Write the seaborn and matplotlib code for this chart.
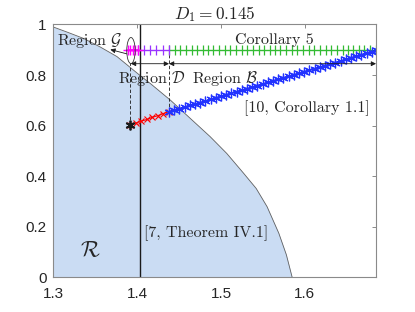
import matplotlib
matplotlib.use('Agg')
import matplotlib.pyplot as plt
import seaborn as sns
from matplotlib.patches import Ellipse

# ---- data ----
boundary_x = [1.300, 1.318, 1.336, 1.356, 1.376, 1.404, 1.416, 1.440, 1.463, 1.487, 1.507, 1.527, 1.542, 1.555, 1.569, 1.578, 1.585]
boundary_y = [0.990, 0.968, 0.945, 0.911, 0.873, 0.797, 0.766, 0.700, 0.630, 0.557, 0.490, 0.412, 0.352, 0.280, 0.175, 0.090, 0.000]

vline_x = 1.4036

g_x = [1.389, 1.392, 1.395, 1.398, 1.4006]
g_y = [0.900, 0.900, 0.900, 0.900, 0.900]

d_x = [1.4006, 1.408, 1.415, 1.423, 1.431, 1.438]
d_y = [0.900, 0.900, 0.900, 0.900, 0.900, 0.900]

c5_x = [1.438, 1.445, 1.451, 1.458, 1.465, 1.471, 1.478, 1.485, 1.491, 1.498,
        1.505, 1.511, 1.518, 1.525, 1.531, 1.538, 1.545, 1.551, 1.558, 1.565,
        1.571, 1.578, 1.585, 1.591, 1.598, 1.605, 1.611, 1.618, 1.625, 1.631,
        1.638, 1.645, 1.651, 1.658, 1.665, 1.671, 1.678, 1.685]
c5_y = [0.900] * len(c5_x)

red_x = [1.392, 1.399, 1.405, 1.412, 1.418, 1.425, 1.431, 1.438]
red_y = [0.603, 0.611, 0.618, 0.625, 0.633, 0.640, 0.648, 0.655]

blue_x = [1.438, 1.444, 1.450, 1.457, 1.463, 1.469, 1.475, 1.481, 1.488, 1.494,
          1.500, 1.506, 1.512, 1.519, 1.525, 1.531, 1.537, 1.543, 1.550, 1.556,
          1.562, 1.568, 1.574, 1.581, 1.587, 1.593, 1.599, 1.605, 1.612, 1.618,
          1.624, 1.630, 1.636, 1.643, 1.649, 1.655, 1.661, 1.667, 1.674, 1.680, 1.686]
blue_y = [0.655, 0.661, 0.667, 0.674, 0.680, 0.685, 0.691, 0.697, 0.704, 0.710,
          0.716, 0.722, 0.728, 0.735, 0.740, 0.746, 0.752, 0.758, 0.765, 0.771,
          0.777, 0.783, 0.789, 0.795, 0.801, 0.807, 0.813, 0.819, 0.826, 0.831,
          0.837, 0.843, 0.849, 0.856, 0.862, 0.868, 0.874, 0.880, 0.887, 0.892, 0.898]

star_x = [1.392]
star_y = [0.603]

x_ticks = [1.3, 1.4, 1.5, 1.6]
x_tick_labels = ['1.3', '1.4', '1.5', '1.6']
y_ticks = [0, 0.2, 0.4, 0.6, 0.8, 1.0]
y_tick_labels = ['0', '0.2', '0.4', '0.6', '0.8', '1']

# ---- style ----
sns.set_theme(style='white')
plt.rcParams['font.family'] = ['Liberation Sans', 'DejaVu Sans']
plt.rcParams['mathtext.fontset'] = 'cm'

fig = plt.figure(figsize=(4.15, 3.12), dpi=100)
ax = fig.add_axes([0.1285, 0.1106, 0.7776, 0.8109])

ax.fill_between(boundary_x, boundary_y, 0, color='#cadcf3', lw=0, zorder=1)
sns.lineplot(x=boundary_x, y=boundary_y, ax=ax, color='#606060', lw=0.6,
             sort=False, estimator=None, zorder=2)

ax.axvline(vline_x, color='k', lw=1.0, zorder=3)

dash_kw = dict(color='k', lw=0.6, ls=(0, (4, 2.5)), zorder=3)
ax.plot([star_x[0], star_x[0]], [star_y[0], 0.848], **dash_kw)
ax.plot([red_x[-1], red_x[-1]], [red_y[-1], 0.900], **dash_kw)

line_kw = dict(ax=ax, sort=False, estimator=None, zorder=5)
sns.lineplot(x=c5_x, y=c5_y, color='#33bb33', lw=1.0, marker='|', markersize=7,
             markeredgewidth=0.9, markeredgecolor='#33bb33', **line_kw)
sns.lineplot(x=d_x, y=d_y, color='#9933ff', lw=1.0, marker='|', markersize=7,
             markeredgewidth=0.9, markeredgecolor='#9933ff', **line_kw)
sns.lineplot(x=g_x, y=g_y, color='#ff00ff', lw=1.2, marker='+', markersize=7,
             markeredgewidth=1.0, markeredgecolor='#ff00ff', **line_kw)
sns.lineplot(x=red_x, y=red_y, color='#ff0000', lw=0.8, marker='x', markersize=5,
             markeredgewidth=0.8, markeredgecolor='#ff0000', **line_kw)
sns.lineplot(x=blue_x, y=blue_y, color='#0000ff', lw=1.2, marker=(6, 2, 0), markersize=7,
             markeredgewidth=0.9, markeredgecolor='#2233ff', clip_on=True, **line_kw)
sns.lineplot(x=star_x, y=star_y, color='k', lw=0, marker=(6, 2, 0), markersize=7,
             markeredgewidth=1.3, markeredgecolor='k', **line_kw)

# ellipse around region G and arrows
ax.add_patch(Ellipse((1.3926, 0.897), width=0.0100, height=0.103, fill=False,
                     ec='#333333', lw=0.6, zorder=6))
arr = dict(arrowstyle='-|>', color='k', lw=0.6, mutation_scale=7, shrinkA=0, shrinkB=0)
ax.annotate('', xy=(1.368, 0.901), xytext=(1.3876, 0.884), arrowprops=arr, zorder=6)
darr = dict(arrowstyle='<|-|>', color='k', lw=0.6, mutation_scale=7, shrinkA=0, shrinkB=0)
ax.annotate('', xy=(1.3926, 0.845), xytext=(1.438, 0.845), arrowprops=darr, zorder=6)
ax.annotate('', xy=(1.438, 0.845), xytext=(1.685, 0.845), arrowprops=darr, zorder=6)

tkw = dict(family=['cmr10', 'DejaVu Serif'], fontsize=11.5, color='#262626', zorder=7)
ax.text(1.3044, 0.936, r'Region $\mathcal{G}$', ha='left', va='center', **tkw)
ax.text(1.377, 0.785, r'Region $\mathcal{D}$', ha='left', va='center', **tkw)
ax.text(1.4653, 0.785, r'Region $\mathcal{B}$', ha='left', va='center', **tkw)
ax.text(1.517, 0.938, 'Corollary 5', ha='left', va='center', **tkw)
ax.text(1.528, 0.670, '[10, Corollary 1.1]', ha='left', va='center', **tkw)
ax.text(1.4084, 0.175, '[7, Theorem IV.1]', ha='left', va='center', **tkw)
ax.text(1.3438, 0.102, r'$\mathcal{R}$', ha='center', va='center', fontsize=16, color='#262626')

ax.set_title(r'$D_1 = 0.145$', fontsize=12.5, pad=4, color='#262626')

ax.set_xlim(1.3, 1.685)
ax.set_ylim(0, 1)
ax.set_xticks(x_ticks, x_tick_labels)
ax.set_yticks(y_ticks, y_tick_labels)
ax.set_xlabel('')
ax.set_ylabel('')
ax.tick_params(direction='in', top=True, right=True, length=3, width=0.6,
               color='#777777', labelcolor='#262626', labelsize=11)
ax.tick_params(axis='x', pad=7)
ax.tick_params(axis='y', pad=5)
for s in ax.spines.values():
    s.set_color('#8a8a8a')
    s.set_linewidth(0.8)
    s.set_zorder(8)

fig.savefig('out.png', dpi=100)
